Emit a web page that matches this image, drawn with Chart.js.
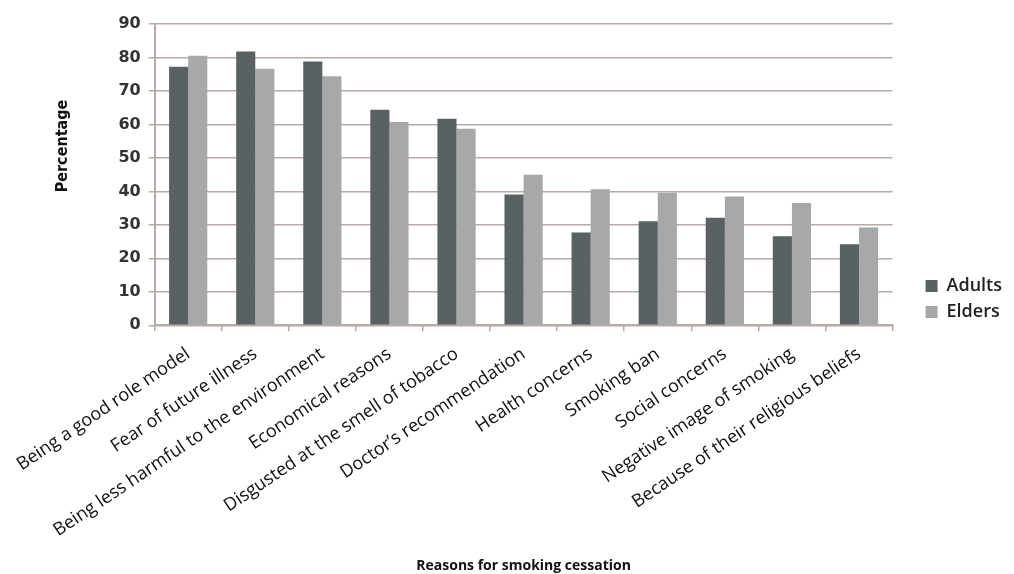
<!DOCTYPE HTML>
<html>
<head>
<script src="https://cdn.jsdelivr.net/npm/chart.js@4.4.1/dist/chart.umd.min.js"></script>
<style>
body { margin: 0; background: #fff; }
#wrap { width: 1014px; height: 574px; }
</style>
</head>
<body>
<div id="wrap"><canvas id="myChart"></canvas></div>
<script>
// reasons and percentages
var reasons = [
  "Being a good role model",
  "Fear of future illness",
  "Being less harmful to the environment",
  "Economical reasons",
  "Disgusted at the smell of tobacco",
  "Doctor\u2019s recommendation",
  "Health concerns",
  "Smoking ban",
  "Social concerns",
  "Negative image of smoking",
  "Because of their religious beliefs"
];
var adults = [77.2, 81.8, 78.8, 64.4, 61.7, 39.1, 27.7, 31.1, 32.1, 26.6, 24.2];
var elders = [80.5, 76.6, 74.4, 60.7, 58.7, 45.0, 40.6, 39.6, 38.5, 36.5, 29.2];
var yTicks = [0, 10, 20, 30, 40, 50, 60, 70, 80, 90];

var gridCol = "#b9aaa7";

// y axis title sits above the middle of the axis in the original, so draw it by hand
var yTitlePlugin = {
  id: 'yTitle',
  afterDraw: function(chart) {
    var c = chart.ctx;
    c.save();
    c.translate(63, 146);
    c.rotate(-Math.PI / 2);
    c.font = 'bold 16px "DejaVu Sans Condensed", "DejaVu Sans"';
    c.fillStyle = '#111';
    c.textAlign = 'center';
    c.textBaseline = 'middle';
    c.fillText('Percentage', 0, 0);
    c.restore();
  }
};

var ctx = document.getElementById("myChart").getContext("2d");
var myChart = new Chart(ctx, {
  type: 'bar',
  data: {
    labels: reasons,
    datasets: [
      {
        label: 'Adults',
        data: adults,
        backgroundColor: '#5a6163',
        borderWidth: 0
      },
      {
        label: 'Elders',
        data: elders,
        backgroundColor: '#a6a8aa',
        borderWidth: 0
      }
    ]
  },
  plugins: [yTitlePlugin],
  options: {
    responsive: true,
    maintainAspectRatio: false,
    animation: false,
    layout: { padding: { left: 107, top: 24, right: 2, bottom: 0 } },
    datasets: { bar: { categoryPercentage: 0.57, barPercentage: 1.0 } },
    plugins: {
      tooltip: { enabled: false },
      legend: {
        position: 'right',
        labels: {
          usePointStyle: true,
          pointStyle: 'rect',
          boxWidth: 12,
          boxHeight: 12,
          padding: 8,
          color: '#222',
          font: { family: 'Open Sans', size: 18, weight: '600' }
        }
      }
    },
    scales: {
      x: {
        offset: true,
        grid: {
          offset: true,
          drawOnChartArea: false,
          drawTicks: true,
          tickLength: 6,
          color: gridCol,
          lineWidth: 1.5
        },
        border: { color: gridCol, width: 2 },
        ticks: {
          minRotation: 34,
          maxRotation: 34,
          autoSkip: false,
          color: '#111',
          padding: 12,
          font: { family: 'Open Sans', size: 18 }
        },
        title: {
          display: true,
          text: 'Reasons for smoking cessation',
          color: '#111',
          padding: { top: 4, bottom: 0 },
          font: { family: 'Open Sans', size: 14, weight: 'bold' }
        }
      },
      y: {
        min: 0,
        max: 90,
        afterBuildTicks: function(axis) {
          axis.ticks = yTicks.map(function(v) { return { value: v }; });
        },
        grid: {
          color: gridCol,
          lineWidth: 1.5,
          drawTicks: true,
          tickLength: 6
        },
        border: { color: gridCol, width: 2 },
        ticks: {
          color: '#333',
          padding: 8,
          font: { family: 'DejaVu Sans', size: 16, weight: 'bold' }
        }
      },
      spacer: {
        type: 'linear',
        position: 'right',
        display: true,
        grid: { display: false },
        border: { display: false },
        ticks: { display: false },
        afterFit: function(axis) { axis.width = 25; }
      }
    }
  }
});
</script>
</body>
</html>
